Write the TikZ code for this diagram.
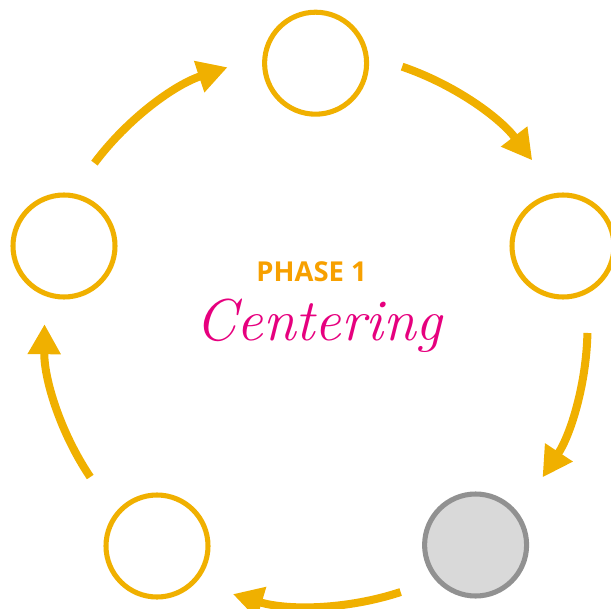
\documentclass[tikz,border=0pt]{standalone}
\usepackage{fontspec}
\usepackage{xcolor}
\usetikzlibrary{arrows.meta}
\newfontfamily\phasefont{Open Sans}
\definecolor{gold}{HTML}{F0B000}
\definecolor{phaseorange}{HTML}{F7A000}
\definecolor{titlepink}{HTML}{E6007E}
\definecolor{donegray}{HTML}{919191}
\definecolor{donefill}{HTML}{D9D9D9}

\begin{document}
\begin{tikzpicture}[
    stage/.style={circle, draw=gold, line width=3.6pt, minimum size=2.55cm, inner sep=0pt},
    cyclearrow/.style={gold, line width=5.7pt, -{Triangle[length=7.5mm, width=7.8mm]}}
]
    \useasboundingbox (0,0) rectangle (15.275,15.2);

    % 1. Centre of the cycle
    \coordinate (O) at (7.8375,7.025);

    % 2. The five stages
    \node[stage] (top)   at (7.89,13.62) {};
    \node[stage] (right) at (14.075,9.05) {};
    \node[stage, draw=donegray, fill=donefill] (lowright) at (11.89,1.575) {};
    \node[stage] (lowleft) at (3.925,1.55) {};
    \node[stage] (left)  at (1.6,9.05) {};

    % 3. Arrows running round the cycle
    \draw[cyclearrow] ([shift={(71.2:6.875)}]O) arc (71.2:37.3:6.875);
    \draw[cyclearrow] ([shift={(-1.25:6.85)}]O) arc (-1.25:-33.3:6.85);
    \draw[cyclearrow] ([shift={(-71.8:6.975)}]O) arc (-71.8:-106.8:6.975);
    \draw[cyclearrow] ([shift={(213.9:6.725)}]O) arc (213.9:179.4:6.725);
    \draw[cyclearrow] ([shift={(143.2:6.84)}]O) arc (143.2:108.3:6.84);

    % 4. Title in the middle
    \node[text=phaseorange, font=\phasefont\bfseries\fontsize{19.5}{22}\selectfont] (phase) at (7.79,8.4) {PHASE 1};
    \node[text=titlepink, font=\itshape\fontsize{42}{46}\selectfont, anchor=base] (title) at (7.97,6.7) {Centering};

\end{tikzpicture}
\end{document}
